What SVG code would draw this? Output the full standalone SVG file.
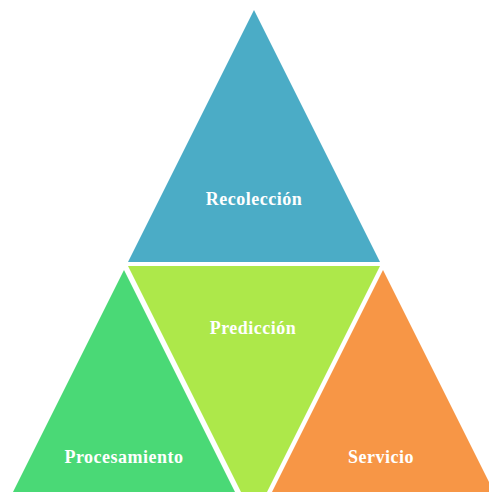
<svg xmlns="http://www.w3.org/2000/svg" width="489" height="492" viewBox="0 0 489 492">
  <style>
    .lbl { font-family: "Liberation Serif", "Times New Roman", serif; font-weight: bold; font-size: 18px; fill: #ffffff; text-anchor: middle; letter-spacing: 0.5px; }
  </style>
  <rect width="489" height="492" fill="#ffffff"/>
  <g id="recoleccion">
    <polygon points="254,10 380,262 128,262" fill="#4bacc6"/>
    <text class="lbl" x="254" y="205">Recolección</text>
  </g>
  <g id="prediccion">
    <polygon points="128,266 380,266 254,518" fill="#ade84a"/>
    <text class="lbl" x="253" y="334">Predicción</text>
  </g>
  <g id="procesamiento">
    <polygon points="124,270 250,522 -2,522" fill="#4ad976"/>
    <text class="lbl" x="124" y="463">Procesamiento</text>
  </g>
  <g id="servicio">
    <polygon points="383,270 509,522 257,522" fill="#f79646"/>
    <text class="lbl" x="381" y="463">Servicio</text>
  </g>
  <g id="connectors"></g>
</svg>
